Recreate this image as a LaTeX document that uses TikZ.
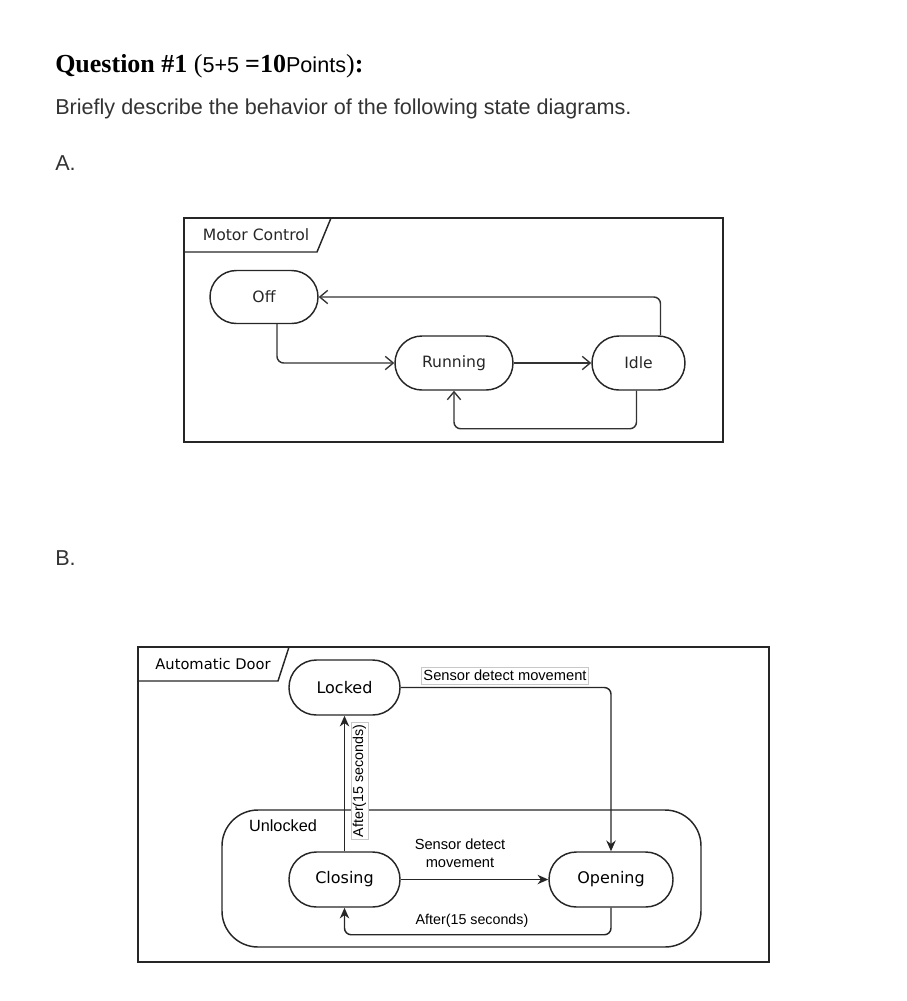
\documentclass[tikz,border=0pt]{standalone}
\usepackage{fontspec}
\setmainfont{Liberation Serif}
\setsansfont{Liberation Sans}
\newfontfamily\dvsans{DejaVu Sans}
\usetikzlibrary{arrows.meta,calc}
\definecolor{dg}{HTML}{333333}
\definecolor{txtc}{HTML}{333333}
\definecolor{lblc}{HTML}{C8C8C8}
\newcommand\qsz{\fontsize{19.5}{22}\selectfont}
\newcommand\bsz{\fontsize{16.2}{19}\selectfont}
\begin{document}
\begin{tikzpicture}[x=0.75pt,y=-0.75pt,
  frame/.style={draw=black!85, line width=1.1pt},
  st/.style={draw=black!85, line width=1.1pt, rectangle, inner sep=0pt, text=black!85},
  oarr/.style={draw=dg, line width=1.1pt, rounded corners=5pt, -{Straight Barb[length=6pt,width=10pt,line width=1pt]}},
  farr/.style={draw=black!85, line width=1.1pt, rounded corners=5pt, -{Stealth[length=8pt,width=7pt,inset=2.5pt]}},
  dvA/.style={font=\dvsans\fontsize{11.7}{14}\selectfont, text=black!85},
  dvB/.style={font=\dvsans\fontsize{12}{14}\selectfont, text=black},
  arB/.style={font=\sffamily\fontsize{11}{13}\selectfont, text=black},
  lblbox/.style={arB, draw=lblc, fill=white, line width=0.6pt, inner xsep=1.5pt, inner ysep=1pt, minimum height=12.75pt}
]
\useasboundingbox (0,0) rectangle (907,1001);

% heading
\node[anchor=base west, inner sep=0] (q) at (55,72)
  {\qsz\textbf{Question \#1} (\sffamily\bsz 5+5 \rmfamily\qsz\bfseries=10\mdseries\sffamily\bsz Points\rmfamily\qsz)\textbf{:}};
\node[anchor=base west, inner sep=0, text=txtc, font=\sffamily\bsz] (brief) at (55,114)
  {Briefly describe the behavior of the following state diagrams.};
\node[anchor=base west, inner sep=0, text=txtc, font=\sffamily\bsz] (la) at (55,170) {A.};
\node[anchor=base west, inner sep=0, text=txtc, font=\sffamily\bsz] (lb) at (55,565) {B.};

% ---------- Diagram A ----------
\draw[frame] (184,218) rectangle (723,442);
\draw[frame] (184,252) -- (317,252) -- (331,218);
\node[dvA] (mc) at (256,235) {Motor Control};

\node[st, dvA, minimum width=81pt, minimum height=39.75pt, rounded corners=19.8pt] (off) at (264,297) {Off};
\node[st, dvA, minimum width=88.5pt, minimum height=40.5pt, rounded corners=20.2pt] (run) at (454,363) {Running};
\node[st, dvA, minimum width=69.75pt, minimum height=40.5pt, rounded corners=20.2pt] (idle) at (638.5,363) {Idle};

\draw[oarr] ($(off.south)+(13,0)$) |- (run.west);
\draw[oarr] (run.east) -- (idle.west);
\draw[oarr] ($(idle.north)+(22,0)$) |- (off.east);
\draw[oarr] ($(idle.south)+(-2,0)$) -- ++(0,38) -| (run.south);

% ---------- Diagram B ----------
\draw[frame] (138,647) rectangle (769,962);
\draw[frame] (138,681) -- (278,681) -- (289,647);
\node[dvB, font=\dvsans\fontsize{11}{13}\selectfont] (ad) at (213,664) {Automatic Door};

\node[st, dvB, minimum width=83.25pt, minimum height=41.25pt, rounded corners=20.5pt] (locked) at (344.5,687.5) {Locked};

\draw[frame, rounded corners=27pt] (222,810) rectangle (701,947);
\node[arB, font=\sffamily\fontsize{12.2}{14}\selectfont] (unl) at (283,826) {Unlocked};

\node[st, dvB, minimum width=83.25pt, minimum height=41.25pt, rounded corners=20.5pt] (closing) at (344.5,879.5) {Closing};
\node[st, dvB, minimum width=93pt, minimum height=41.25pt, rounded corners=20.5pt] (opening) at (611,879.5) {Opening};

\draw[farr] (locked.east) -| (opening.north);
\node[lblbox] (l1) at (505,675.5) {Sensor detect movement};

\draw[farr] (closing.north) -- (locked.south);
\node[lblbox, font=\sffamily\fontsize{10.7}{13}\selectfont, rotate=90] (l2) at (359.5,781) {After(15 seconds)};

\draw[farr] (closing.east) -- (opening.west);
\node[arB, align=center, font=\sffamily\fontsize{11}{13.5}\selectfont] (l3) at (460,853) {Sensor detect\\movement};

\draw[farr] (opening.south) -- ++(0,27) -| (closing.south);
\node[arB, font=\sffamily\fontsize{10.7}{13}\selectfont] (l4) at (472,921) {After(15 seconds)};
\end{tikzpicture}
\end{document}
